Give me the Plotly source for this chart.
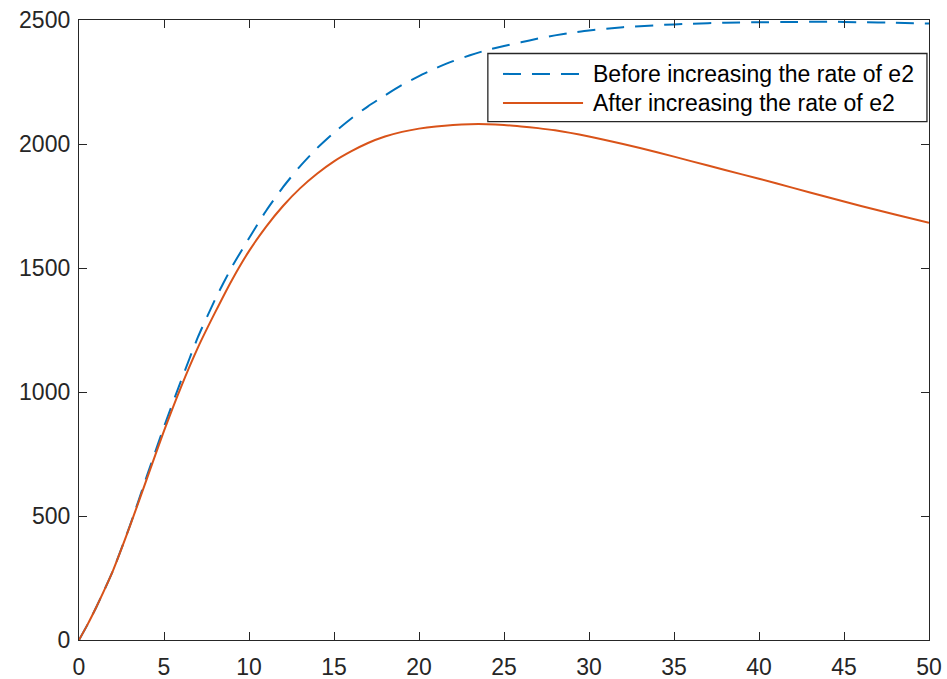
import plotly.graph_objects as go

# ---- data ----
x_before = [0, 0.5, 1, 1.5, 2, 3, 4, 5, 6, 7, 8, 9, 10, 11, 12, 13, 14, 15, 16, 17, 18, 19, 20,
            21, 22, 23, 24, 25, 26, 27, 28, 29, 30, 32, 34, 36, 38, 40, 42, 44, 46, 48, 50]
y_before = [0, 62, 130, 203, 280, 462, 663, 860, 1045, 1222, 1372, 1505, 1620, 1730, 1826, 1910,
            1983, 2046, 2102, 2152, 2196, 2238, 2274, 2306, 2334, 2358, 2379, 2395, 2410, 2425,
            2438, 2449, 2458, 2471, 2479, 2485, 2489, 2491, 2492, 2493, 2491, 2489, 2486]

x_after = [0, 0.5, 1, 1.5, 2, 3, 4, 5, 6, 7, 8, 9, 10, 11, 12, 13, 14, 15, 16, 17, 18, 19, 20,
           21, 22, 23, 24, 25, 26, 27, 28, 30, 32, 34, 36, 38, 40, 42, 44, 46, 48, 50]
y_after = [0, 62, 130, 203, 280, 460, 652, 843, 1020, 1180, 1320, 1452, 1568, 1666, 1750, 1821,
           1880, 1930, 1970, 2004, 2030, 2049, 2062, 2071, 2077, 2080, 2080, 2077, 2071, 2064,
           2055, 2030, 2000, 1967, 1931, 1895, 1860, 1823, 1786, 1750, 1716, 1682]

names = ["Before increasing the rate of e2", "After increasing the rate of e2"]
colors = ["#0072BD", "#D95319"]

x_ticks = [0, 5, 10, 15, 20, 25, 30, 35, 40, 45, 50]
y_ticks = [0, 500, 1000, 1500, 2000, 2500]

FONT = "Liberation Sans, Arial, sans-serif"
DASH = "18px,11px"

fig = go.Figure()
fig.add_trace(go.Scatter(x=x_before, y=y_before, mode="lines", name=names[0],
                         line=dict(color=colors[0], width=2, dash=DASH, shape="spline", smoothing=0.6)))
fig.add_trace(go.Scatter(x=x_after, y=y_after, mode="lines", name=names[1],
                         line=dict(color=colors[1], width=2, shape="spline", smoothing=0.6)))

axis_common = dict(showgrid=False, zeroline=False, showline=True, mirror="ticks",
                   linecolor="#262626", linewidth=1.3, ticks="inside", ticklen=8,
                   tickwidth=1.3, tickcolor="#262626", automargin=False,
                   tickfont=dict(family=FONT, size=23, color="#262626"))
fig.update_xaxes(range=[0, 50], tickvals=x_ticks, ticktext=[str(v) for v in x_ticks],
                 ticklabelstandoff=6, **axis_common)
fig.update_yaxes(range=[0, 2500], tickvals=y_ticks, ticktext=[str(v) for v in y_ticks],
                 ticklabelstandoff=3, **axis_common)

# ---- legend box drawn manually (MATLAB style) ----
lx0, lx1, ly0, ly1 = 0.481, 0.9976, 0.836, 0.946
fig.add_shape(type="rect", xref="paper", yref="paper", x0=lx0, x1=lx1, y0=ly0, y1=ly1,
              line=dict(color="#262626", width=1.3), fillcolor="white", layer="above")
rows = [0.913, 0.866]
dashes = [DASH, "solid"]
for i in range(2):
    fig.add_shape(type="line", xref="paper", yref="paper", x0=0.4988, x1=0.593,
                  y0=rows[i], y1=rows[i], line=dict(color=colors[i], width=2, dash=dashes[i]),
                  layer="above")
    fig.add_annotation(xref="paper", yref="paper", x=0.6024, y=rows[i], text=names[i],
                       showarrow=False, xanchor="left", yanchor="middle",
                       font=dict(family=FONT, size=23, color="#000000"))

fig.update_layout(width=947, height=679, showlegend=False,
                  margin=dict(l=79, r=18, t=20, b=39),
                  paper_bgcolor="white", plot_bgcolor="white")

fig.write_html("out.html")
